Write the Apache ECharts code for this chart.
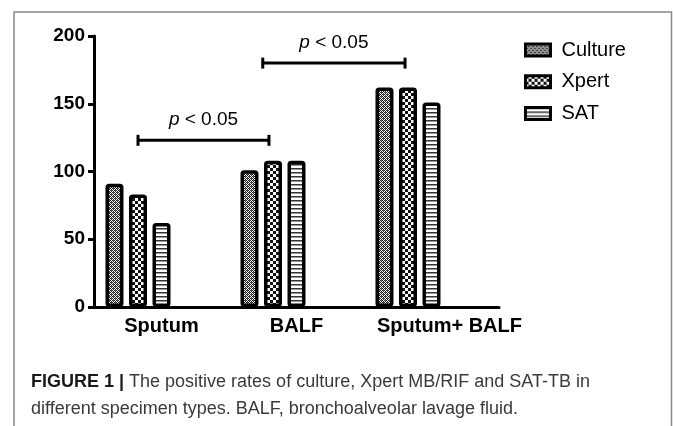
<!DOCTYPE html>
<html>
<head>
<meta charset="utf-8">
<script src="https://cdn.jsdelivr.net/npm/echarts@6/dist/echarts.min.js"></script>
<style>
  html, body { margin: 0; padding: 0; background: #fff; }
  #chart { width: 673px; height: 426px; }
</style>
</head>
<body>
<div id="chart"></div>
<script>
// specimen types
var categories = ["Sputum", "BALF", "Sputum+ BALF"];
// positive counts
var cultureData = [91, 101, 162];
var xpertData = [83, 108, 162];
var satData = [62, 108, 151];
var yTicks = { min: 0, max: 200, interval: 50 };
// p-value brackets, x in category units (0 = Sputum), y in axis units
var brackets = [
  { from: -0.174, to: 0.796, y: 123, text: "p < 0.05" },
  { from: 0.75, to: 1.804, y: 180, text: "p < 0.05" }
];
var captionLines = [
  "The positive rates of culture, Xpert MB/RIF and SAT-TB in",
  "different specimen types. BALF, bronchoalveolar lavage fluid."
];

var FONT = "Liberation Sans, Arial, sans-serif";

// fill patterns
function makePattern(type) {
  var c = document.createElement("canvas");
  var ctx = c.getContext("2d");
  if (type === "fine") {
    c.width = 4; c.height = 4;
    ctx.fillStyle = "#fff"; ctx.fillRect(0, 0, 4, 4);
    ctx.fillStyle = "#222";
    ctx.fillRect(0, 0, 1, 1); ctx.fillRect(2, 0, 1, 1);
    ctx.fillRect(1, 1, 1, 1); ctx.fillRect(3, 1, 1, 1);
    ctx.fillRect(0, 2, 1, 1); ctx.fillRect(2, 2, 1, 1);
    ctx.fillRect(1, 3, 1, 1); ctx.fillRect(3, 3, 1, 1);
    ctx.fillStyle = "#666";
    ctx.fillRect(1, 0, 1, 1); ctx.fillRect(3, 2, 1, 1);
  } else if (type === "check") {
    c.width = 6; c.height = 6;
    ctx.fillStyle = "#fff"; ctx.fillRect(0, 0, 6, 6);
    ctx.fillStyle = "#111";
    ctx.fillRect(0, 0, 3, 3); ctx.fillRect(3, 3, 3, 3);
  } else {
    c.width = 4; c.height = 4;
    ctx.fillStyle = "#fff"; ctx.fillRect(0, 0, 4, 4);
    ctx.fillStyle = "#333"; ctx.fillRect(0, 0, 4, 1);
    ctx.fillStyle = "#999"; ctx.fillRect(0, 1, 4, 1);
  }
  return { image: c, repeat: "repeat" };
}

function barSeries(name, data, pattern) {
  return {
    name: name,
    type: "bar",
    data: data,
    barWidth: 18,
    barGap: "30.6%",
    itemStyle: {
      color: pattern,
      borderColor: "#000",
      borderWidth: 3.5,
      borderRadius: 2
    }
  };
}

var myChart = echarts.init(document.getElementById("chart"), null, { renderer: "canvas" });

var series = [
  barSeries("Culture", cultureData, makePattern("fine")),
  barSeries("Xpert", xpertData, makePattern("check")),
  barSeries("SAT", satData, makePattern("stripe")),
  // empty slots so the SAT bar sits on the category tick, as in the original
  { name: "pad1", type: "bar", data: [], barWidth: 18, barGap: "30.6%" },
  { name: "pad2", type: "bar", data: [], barWidth: 18, barGap: "30.6%" }
];

var option = {
  animation: false,
  backgroundColor: "#fff",
  textStyle: { fontFamily: FONT },
  legend: {
    orient: "vertical",
    left: 524,
    top: 40,
    padding: 0,
    icon: "rect",
    itemWidth: 25,
    itemHeight: 12,
    itemGap: 11.7,
    data: ["Culture", "Xpert", "SAT"],
    itemStyle: { borderColor: "#000", borderWidth: 3 },
    textStyle: {
      fontFamily: FONT,
      fontSize: 20,
      color: "#000",
      lineHeight: 20,
      padding: [0, 0, 0, 6]
    }
  },
  grid: { left: 94, right: 174, top: 36, bottom: 119 },
  xAxis: {
    type: "category",
    data: categories,
    axisLine: { lineStyle: { color: "#000", width: 3 } },
    axisTick: { alignWithLabel: true, length: 6, lineStyle: { color: "#000", width: 3 } },
    axisLabel: {
      interval: 0,
      hideOverlap: false,
      margin: 9,
      color: "#000",
      fontFamily: FONT,
      fontSize: 20,
      fontWeight: "bold",
      formatter: function (v) {
        return v === "Sputum+ BALF" ? "{shift|" + v + "}" : v;
      },
      rich: {
        shift: { padding: [0, 0, 0, 36], fontFamily: FONT, fontSize: 20, fontWeight: "bold", color: "#000" }
      }
    },
    splitLine: { show: false }
  },
  yAxis: {
    type: "value",
    min: yTicks.min,
    max: yTicks.max,
    interval: yTicks.interval,
    axisLine: { show: true, lineStyle: { color: "#000", width: 3 } },
    axisTick: { show: true, length: 6, lineStyle: { color: "#000", width: 3 } },
    axisLabel: {
      margin: 9,
      color: "#000",
      fontFamily: FONT,
      fontSize: 19,
      fontWeight: "bold"
    },
    splitLine: { show: false }
  },
  series: series
};

myChart.setOption(option);

// brackets + frame + caption
var x0 = myChart.convertToPixel({ xAxisIndex: 0 }, 0);
var x1 = myChart.convertToPixel({ xAxisIndex: 0 }, 1);
var band = x1 - x0;
var graphics = [];
brackets.forEach(function (b) {
  var xa = x0 + b.from * band;
  var xb = x0 + b.to * band;
  var yy = myChart.convertToPixel({ yAxisIndex: 0 }, b.y);
  var ls = { stroke: "#000", lineWidth: 3 };
  graphics.push({ type: "line", shape: { x1: xa, y1: yy, x2: xb, y2: yy }, style: ls });
  graphics.push({ type: "line", shape: { x1: xa, y1: yy - 5.5, x2: xa, y2: yy + 5.5 }, style: ls });
  graphics.push({ type: "line", shape: { x1: xb, y1: yy - 5.5, x2: xb, y2: yy + 5.5 }, style: ls });
  var parts = b.text.split(" ");
  graphics.push({
    type: "text",
    x: (xa + xb) / 2,
    y: yy - 20.5,
    style: {
      text: "{i|" + parts[0] + "} " + parts.slice(1).join(" "),
      align: "center",
      verticalAlign: "middle",
      font: "19px " + FONT,
      fill: "#000",
      rich: { i: { fontStyle: "italic", fontSize: 19, fontFamily: FONT, fill: "#000" } }
    }
  });
});
graphics.push({
  type: "rect",
  shape: { x: 14, y: 12, width: 657.5, height: 440 },
  style: { fill: "none", stroke: "#888", lineWidth: 1.5 }
});
var CAP_FONT = "'Liberation Sans', Arial, sans-serif";
graphics.push({
  type: "text",
  x: 31,
  y: 382,
  style: {
    text: "{b|FIGURE 1 |} " + captionLines[0],
    verticalAlign: "middle",
    font: "18px " + CAP_FONT,
    fill: "#3a3a3a",
    rich: { b: { fontWeight: "bold", fontSize: 18, fontFamily: CAP_FONT, fill: "#1a1a1a" } }
  }
});
graphics.push({
  type: "text",
  x: 31,
  y: 409,
  style: {
    text: captionLines[1],
    verticalAlign: "middle",
    font: "18px " + CAP_FONT,
    fill: "#3a3a3a"
  }
});
myChart.setOption({ graphic: graphics });
</script>
</body>
</html>
